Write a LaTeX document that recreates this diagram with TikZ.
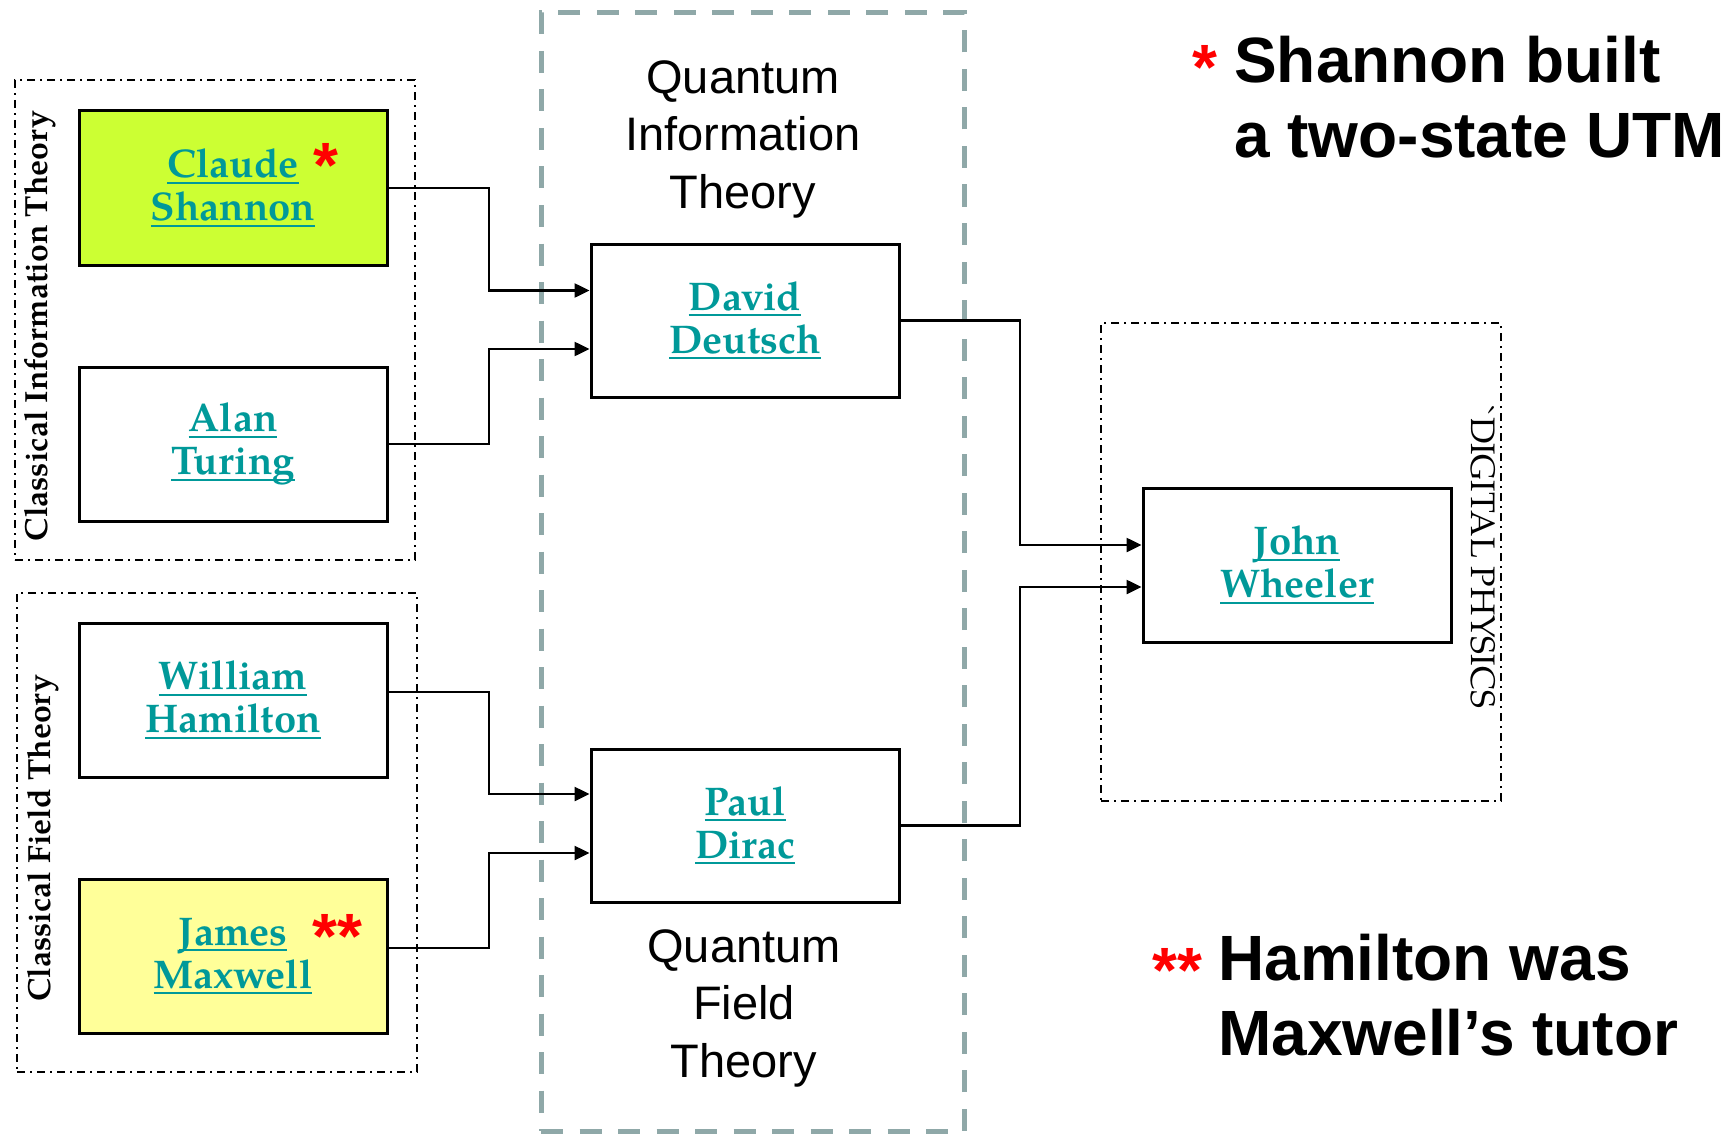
\documentclass[tikz,border=0pt]{standalone}
\usepackage{fontspec}
\usetikzlibrary{arrows.meta}
\newfontfamily\arialf{Liberation Sans}
\newfontfamily\palf[Extension=.otf, UprightFont=*-regular, BoldFont=*-bold]{texgyrepagella}
% underline at a fixed distance below the baseline
\newcommand\nameul[1]{\setbox0=\hbox{#1}\rlap{\rule[-6pt]{\wd0}{2pt}}\box0}
\definecolor{nameteal}{RGB}{0,153,153}
\definecolor{shannonfill}{RGB}{204,255,51}
\definecolor{maxwellfill}{RGB}{255,255,153}
\definecolor{qitdash}{RGB}{143,168,168}
\tikzset{
  person/.style={draw=black, line width=3pt, minimum width=308pt, minimum height=154pt,
    inner sep=0pt, align=center, text=nameteal, font=\palf\bfseries\fontsize{40}{43}\selectfont},
  group/.style={draw=black, line width=2pt, dash pattern=on 8pt off 5pt on 2pt off 5pt,
    inner sep=0pt},
  qbox/.style={draw=qitdash, line width=5pt, dash pattern=on 22pt off 16.5pt, inner sep=0pt},
  grouplabel/.style={font=\palf\bfseries\fontsize{32}{32}\selectfont, inner sep=0pt, anchor=base},
  sanslabel/.style={font=\arialf\fontsize{47}{57.5}\selectfont, align=center, inner sep=0pt},
  legend/.style={font=\arialf\bfseries\fontsize{64}{75}\selectfont, align=left, inner sep=0pt},
  redmark/.style={text=red, font=\arialf\bfseries\fontsize{64}{64}\selectfont, inner sep=0pt, anchor=base},
  conn/.style={line width=2.5pt},
  arr/.style={conn, -{Triangle[length=15pt,width=14pt]}}
}
\begin{document}
\begin{tikzpicture}[x=1pt, y=-1pt]
\useasboundingbox (0,0) rectangle (1736,1134);

% grouping frames
\node[qbox, minimum width=423pt, minimum height=1118pt] (qit) at (752.5,572) {};
\node[group, minimum width=400pt, minimum height=480pt] (cit) at (215,320) {};
\node[group, minimum width=400pt, minimum height=479pt] (cft) at (217,832.5) {};
\node[group, minimum width=400pt, minimum height=478pt] (dp) at (1301,562) {};

% frame labels
\node[grouplabel, rotate=90] (citlabel) at (47,326) {Classical Information Theory};
\node[grouplabel, rotate=90] (cftlabel) at (50,838) {Classical Field Theory};
\node[grouplabel, font=\palf\fontsize{34}{34}\selectfont, rotate=-90] (dplabel) at (1471,557) {`DIGITAL PHYSICS};
\node[sanslabel, anchor=base] (qitlabel) at (743,208) {Quantum\\Information\\Theory};
\node[sanslabel, anchor=base] (qftlabel) at (744,1077) {Quantum\\Field\\Theory};

% people
\node[person, fill=shannonfill] (shannon) at (233,188) {\nameul{Claude}\\\nameul{Shannon}};
\node[person] (turing) at (233,444) {\nameul{Alan}\\\nameul{Turing}};
\node[person] (hamilton) at (233,700) {\nameul{William}\\\nameul{Hamilton}};
\node[person, fill=maxwellfill] (maxwell) at (233,956) {\nameul{James}\\\nameul{Maxwell}};
\node[person, minimum height=153pt] (deutsch) at (745,320.5) {\nameul{David}\\\nameul{Deutsch}};
\node[person, minimum height=153pt] (dirac) at (745,825.5) {\nameul{Paul}\\\nameul{Dirac}};
\node[person] (wheeler) at (1297,565) {\nameul{John}\\\nameul{Wheeler}};

% footnote marks
\node[redmark] (shannonmark) at (326,188) {*};
\node[redmark] (maxwellmark) at (337.5,958) {**};

% notes
\node[redmark] (note1mark) at (1205,90) {*};
\node[legend, anchor=base west] (note1) at (1234,158) {Shannon built\\a two-state UTM};
\node[redmark] (note2mark) at (1177,992) {**};
\node[legend, anchor=base west] (note2) at (1218,1055) {Hamilton was\\Maxwell’s tutor};

% junction columns
\coordinate (jl) at (489,0);
\coordinate (jr) at (1020,0);

% connectors
\draw[arr] (shannon.east) -- (shannon.east -| jl) |- ([yshift=30pt]deutsch.west);
\draw[arr] (turing.east) -- (turing.east -| jl) |- ([yshift=-28.5pt]deutsch.west);
\draw[arr] ([yshift=8pt]hamilton.east) -- ([yshift=8pt]hamilton.east -| jl) |- ([yshift=31.5pt]dirac.west);
\draw[arr] ([yshift=8pt]maxwell.east) -- ([yshift=8pt]maxwell.east -| jl) |- ([yshift=-27.5pt]dirac.west);
\draw[arr] (deutsch.east) -- (deutsch.east -| jr) |- ([yshift=20pt]wheeler.west);
\draw[arr] (dirac.east) -- (dirac.east -| jr) |- ([yshift=-22pt]wheeler.west);
\end{tikzpicture}
\end{document}
